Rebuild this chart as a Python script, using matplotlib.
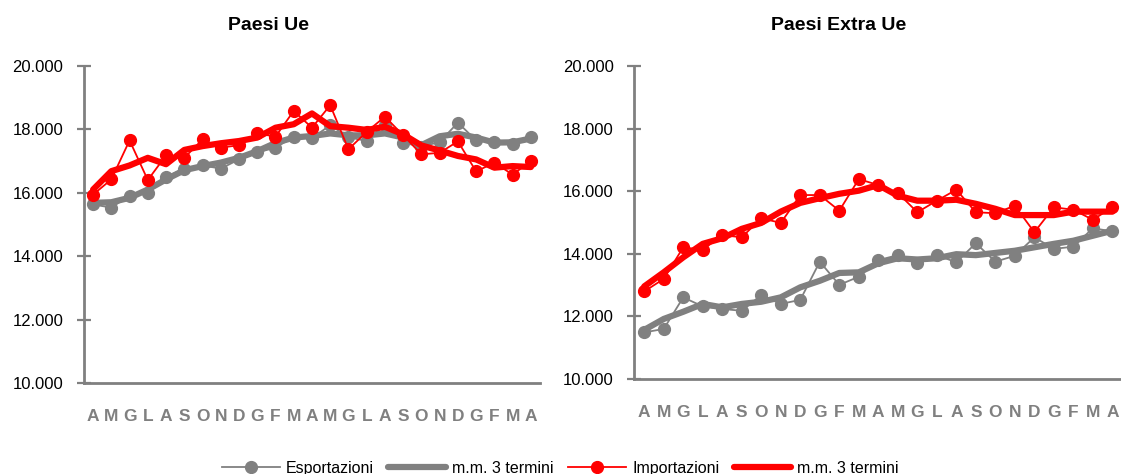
import matplotlib
matplotlib.use("Agg")
import matplotlib.pyplot as plt
from matplotlib.ticker import FuncFormatter

plt.rcParams['font.family'] = ['Liberation Sans Narrow', 'Liberation Sans', 'DejaVu Sans']

# mesi (aprile -> aprile, 25 mesi)
mesi = ["A", "M", "G", "L", "A", "S", "O", "N", "D", "G", "F", "M",
        "A", "M", "G", "L", "A", "S", "O", "N", "D", "G", "F", "M", "A"]

# Paesi Ue
ue_esp = [15630, 15530, 15910, 16000, 16500, 16760, 16860, 16760, 17050, 17270, 17420, 17770,
          17720, 18130, 17750, 17630, 18150, 17580, 17450, 17600, 18210, 17650, 17610, 17530, 17750]
ue_esp_mm = [15680, 15700, 15840, 16100, 16420, 16710, 16840, 16950, 17100, 17310, 17570, 17740,
             17790, 17870, 17810, 17810, 17870, 17740, 17500, 17780, 17860, 17740, 17580, 17590, 17710]
ue_imp = [15940, 16420, 17650, 16400, 17180, 17100, 17680, 17420, 17500, 17870, 17770, 18580,
          18050, 18760, 17370, 17920, 18400, 17810, 17210, 17260, 17620, 16670, 16950, 16570, 17000]
ue_imp_mm = [16100, 16680, 16860, 17100, 16900, 17350, 17470, 17560, 17630, 17740, 18050, 18160,
             18500, 18100, 18050, 17980, 18080, 17840, 17490, 17330, 17160, 17050, 16790, 16840, 16810]

# Paesi Extra Ue
ext_esp = [11490, 11600, 12610, 12320, 12240, 12180, 12680, 12400, 12530, 13750, 13010, 13270,
           13800, 13960, 13710, 13960, 13730, 14340, 13750, 13940, 14530, 14160, 14230, 14820, 14720]
ext_esp_mm = [11570, 11920, 12150, 12400, 12290, 12400, 12470, 12610, 12930, 13140, 13390, 13410,
              13700, 13860, 13820, 13860, 13990, 13960, 14030, 14100, 14210, 14320, 14420, 14580, 14740]
ext_imp = [12800, 13200, 14210, 14130, 14600, 14530, 15140, 14990, 15880, 15880, 15380, 16390,
           16200, 15950, 15330, 15700, 16050, 15330, 15300, 15540, 14690, 15490, 15410, 15090, 15490]
ext_imp_mm = [12960, 13410, 13890, 14320, 14500, 14800, 14990, 15350, 15630, 15780, 15920, 16020,
              16200, 15860, 15700, 15700, 15730, 15600, 15440, 15240, 15240, 15240, 15350, 15350, 15350]

GRIGIO = "#808080"
ROSSO = "#FF0000"

fig = plt.figure(figsize=(11.21, 4.74), dpi=100)
ax1 = fig.add_axes([0.0749, 0.192, 0.4068, 0.669])
ax2 = fig.add_axes([0.566, 0.2004, 0.435, 0.660])

def pannello(ax, esp, esp_mm, imp, imp_mm):
    x = range(len(mesi))
    ax.plot(x, esp, color=GRIGIO, lw=1.3, marker="o", ms=8.5, label="Esportazioni")
    ax.plot(x, esp_mm, color=GRIGIO, lw=4.5, solid_capstyle="round", label="m.m. 3 termini")
    ax.plot(x, imp, color=ROSSO, lw=1.3, marker="o", ms=8.5, label="Importazioni")
    ax.plot(x, imp_mm, color=ROSSO, lw=4.5, solid_capstyle="round", label="m.m. 3 termini")
    ax.set_xlim(-0.5, len(mesi) - 0.5)
    ax.set_ylim(10000, 20000)
    ax.set_yticks([10000, 12000, 14000, 16000, 18000, 20000])
    ax.yaxis.set_major_formatter(FuncFormatter(lambda v, p: f"{v:,.0f}".replace(",", ".")))
    ax.set_xticks(list(x))
    ax.set_xticklabels(mesi, color=GRIGIO, fontweight="bold", fontsize=12.5)
    ax.tick_params(axis="x", length=0, pad=19)
    ax.tick_params(axis="y", direction="inout", length=10, width=1.6, color=GRIGIO,
                   labelsize=12, pad=10)
    for s in ["top", "right"]:
        ax.spines[s].set_visible(False)
    for s in ["left", "bottom"]:
        ax.spines[s].set_color(GRIGIO)
        ax.spines[s].set_linewidth(2)

pannello(ax1, ue_esp, ue_esp_mm, ue_imp, ue_imp_mm)
pannello(ax2, ext_esp, ext_esp_mm, ext_imp, ext_imp_mm)

fig.text(268 / 1121, 1 - 26 / 474, "Paesi Ue", ha="center", va="center",
         fontsize=14, fontweight="bold")
fig.text(839 / 1121, 1 - 26 / 474, "Paesi Extra Ue", ha="center", va="center",
         fontsize=14, fontweight="bold")

h, l = ax1.get_legend_handles_labels()
fig.legend(h, l, loc="center", bbox_to_anchor=(0.5, 0.012), ncol=4, frameon=False,
           fontsize=11.5, handlelength=3.6, columnspacing=0.9, handletextpad=0.4)

fig.savefig("out.png", dpi=100)
